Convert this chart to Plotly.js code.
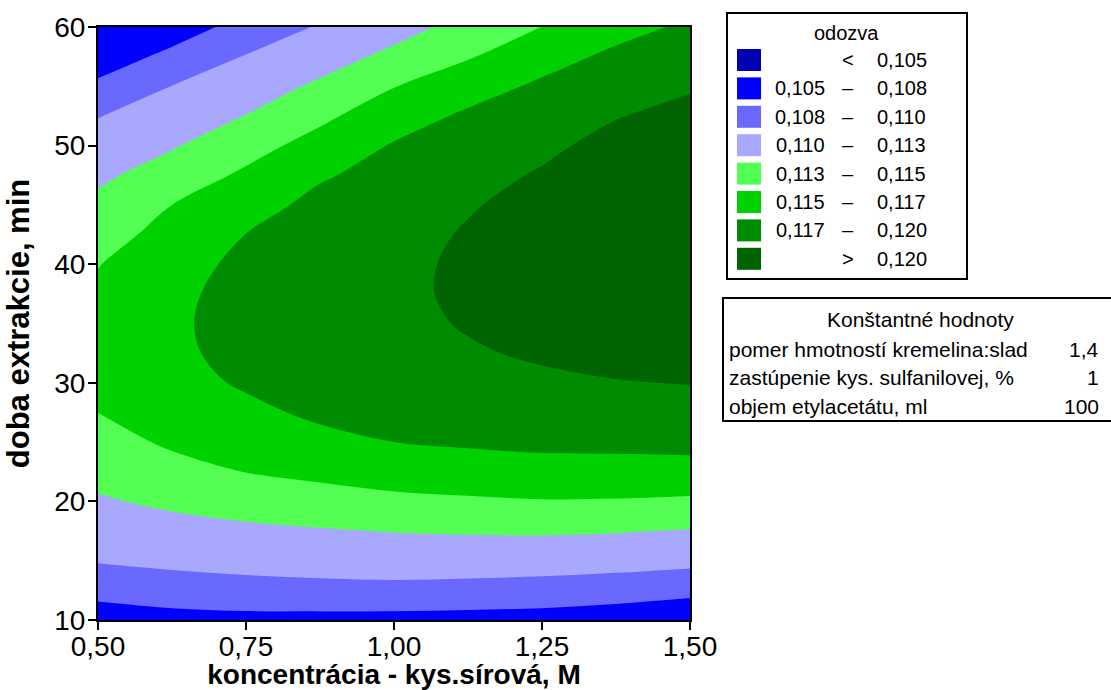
<!DOCTYPE html>
<html>
<head>
<meta charset="utf-8">
<script src="https://cdn.plot.ly/plotly-3.0.1.min.js"></script>
<style>html,body{margin:0;padding:0;background:#fff}</style>
</head>
<body>
<div id="chart" style="width:1111px;height:690px"></div>
<script>
// Factor grid: sulphuric acid concentration (M) and extraction time (min)
const concentration = [0.5, 0.625, 0.75, 0.875, 1.0, 1.125, 1.25, 1.375, 1.5];
const extractionTime = [10, 12.5, 15, 17.5, 20, 22.5, 25, 27.5, 30, 32.5, 35,
                        37.5, 40, 42.5, 45, 47.5, 50, 52.5, 55, 57.5, 60];

// Fitted response (odozva), one row per extraction time, one column per concentration
const response = [
  [0.10620, 0.10662, 0.10679, 0.10675, 0.10672, 0.10660, 0.10646, 0.10607, 0.10545],
  [0.10827, 0.10882, 0.10915, 0.10933, 0.10940, 0.10926, 0.10906, 0.10872, 0.10822],
  [0.11017, 0.11054, 0.11080, 0.11098, 0.11112, 0.11111, 0.11105, 0.11089, 0.11063],
  [0.11121, 0.11171, 0.11205, 0.11231, 0.11258, 0.11270, 0.11275, 0.11263, 0.11236],
  [0.11225, 0.11291, 0.11350, 0.11401, 0.11447, 0.11468, 0.11487, 0.11482, 0.11463],
  [0.11319, 0.11418, 0.11504, 0.11556, 0.11605, 0.11638, 0.11663, 0.11671, 0.11666],
  [0.11411, 0.11535, 0.11600, 0.11684, 0.11750, 0.11780, 0.11801, 0.11802, 0.11817],
  [0.11501, 0.11614, 0.11696, 0.11794, 0.11824, 0.11864, 0.11892, 0.11905, 0.11920],
  [0.11546, 0.11670, 0.11778, 0.11867, 0.11882, 0.11931, 0.11966, 0.11991, 0.12007],
  [0.11568, 0.11702, 0.11824, 0.11918, 0.11924, 0.11981, 0.12024, 0.12060, 0.12077],
  [0.11567, 0.11710, 0.11844, 0.11945, 0.11950, 0.12015, 0.12064, 0.12111, 0.12131],
  [0.11542, 0.11693, 0.11839, 0.11949, 0.11960, 0.12033, 0.12089, 0.12146, 0.12170],
  [0.11492, 0.11653, 0.11808, 0.11929, 0.11954, 0.12033, 0.12096, 0.12163, 0.12191],
  [0.11398, 0.11588, 0.11753, 0.11886, 0.11932, 0.12017, 0.12087, 0.12163, 0.12197],
  [0.11303, 0.11500, 0.11648, 0.11820, 0.11894, 0.11985, 0.12061, 0.12146, 0.12186],
  [0.11204, 0.11361, 0.11542, 0.11723, 0.11839, 0.11936, 0.12019, 0.12111, 0.12159],
  [0.11100, 0.11228, 0.11409, 0.11590, 0.11769, 0.11870, 0.11960, 0.12060, 0.12116],
  [0.10992, 0.11116, 0.11256, 0.11449, 0.11640, 0.11788, 0.11884, 0.11991, 0.12056],
  [0.10790, 0.11005, 0.11135, 0.11288, 0.11492, 0.11649, 0.11791, 0.11905, 0.11981],
  [0.10643, 0.10800, 0.11014, 0.11153, 0.11303, 0.11481, 0.11657, 0.11802, 0.11888],
  [0.10510, 0.10652, 0.10819, 0.11026, 0.11167, 0.11324, 0.11503, 0.11665, 0.11790]
];

// Contour breaks and the band colours (lowest band first)
const levelBreaks = [0.105, 0.1075, 0.110, 0.1125, 0.115, 0.1175, 0.120];
const bandColors = ['#0000B4', '#0000FF', '#6969FF', '#A8A8FF',
                    '#52FF52', '#00D200', '#008C00', '#006400'];
const bandLabels = [
  ['', '<', '0,105'],
  ['0,105', '–', '0,108'],
  ['0,108', '–', '0,110'],
  ['0,110', '–', '0,113'],
  ['0,113', '–', '0,115'],
  ['0,115', '–', '0,117'],
  ['0,117', '–', '0,120'],
  ['', '>', '0,120']
];

// Factors held constant
const constantNames = ['pomer hmotností kremelina:slad',
                       'zastúpenie kys. sulfanilovej, %',
                       'objem etylacetátu, ml'];
const constantValues = ['1,4', '1', '100'];

const xTicks = [0.5, 0.75, 1.0, 1.25, 1.5];

// ---- page geometry (pixels) ----
const W = 1111, H = 690;
const PL = 98, PR = 690, PT = 27, PB = 620;
const px = p => (p - PL) / (PR - PL);
const py = p => (PB - p) / (PB - PT);

const FONT = 'Liberation Sans, Arial, sans-serif';

// Rows of the discrete colour scale, one per band, hit exactly by Plotly's fill mapping
const colorscale = bandColors.map((c, i) => [i / (bandColors.length - 1), c]);

const trace = {
  type: 'contour',
  x: concentration,
  y: extractionTime,
  z: response,
  autocontour: false,
  contours: {
    start: levelBreaks[0],
    end: levelBreaks[levelBreaks.length - 1],
    size: levelBreaks[1] - levelBreaks[0],
    coloring: 'fill',
    showlines: false
  },
  colorscale: colorscale,
  showscale: false,
  line: {width: 0, smoothing: 1},
  hoverinfo: 'skip'
};

const shapes = [];
const annotations = [];

function text(t, x, y, size, anchor, opts) {
  annotations.push(Object.assign({
    text: t, xref: 'paper', yref: 'paper', x: px(x), y: py(y),
    xanchor: anchor, yanchor: 'middle', showarrow: false,
    font: {family: FONT, size: size, color: '#000'}
  }, opts || {}));
}

// Legend box
shapes.push({type: 'rect', xref: 'paper', yref: 'paper',
  x0: px(727), x1: px(967), y0: py(13), y1: py(279),
  line: {color: '#000', width: 2}, fillcolor: 'rgba(0,0,0,0)', layer: 'above'});
text('odozva', 846, 33, 20, 'center');
bandColors.forEach((c, i) => {
  const cy = 60 + i * 28.4;
  shapes.push({type: 'rect', xref: 'paper', yref: 'paper',
    x0: px(737), x1: px(761), y0: py(cy - 11), y1: py(cy + 11),
    line: {width: 0}, fillcolor: c, layer: 'above'});
  const lab = bandLabels[i];
  if (lab[0]) text(lab[0], 827, cy, 20, 'right');
  text(lab[1], 848, cy, 20, 'center');
  text(lab[2], 875, cy, 20, 'left');
});

// Constant-values box (runs off the right edge of the page)
shapes.push({type: 'rect', xref: 'paper', yref: 'paper',
  x0: px(723), x1: px(1116), y0: py(298), y1: py(421),
  line: {color: '#000', width: 2}, fillcolor: 'rgba(0,0,0,0)', layer: 'above'});
text('Konštantné hodnoty', 920, 319, 21, 'center');
constantNames.forEach((n, i) => {
  const cy = 349 + i * 28.5;
  text(n, 727, cy, 21, 'left');
  text(constantValues[i], 1101, cy, 21, 'right');
});

const layout = {
  width: W, height: H,
  margin: {l: PL, r: W - PR, t: PT, b: H - PB, pad: 0},
  paper_bgcolor: '#fff', plot_bgcolor: '#fff',
  separators: ',.',
  showlegend: false,
  xaxis: {
    range: [0.5, 1.5], tickvals: xTicks, tickformat: '.2f',
    ticks: 'outside', ticklen: 8, tickwidth: 2, tickcolor: '#000',
    ticklabelstandoff: -8,
    showline: true, linecolor: '#000', linewidth: 2, mirror: true,
    showgrid: false, zeroline: false,
    tickfont: {family: FONT, size: 28, color: '#000'},
    title: {text: 'koncentrácia - kys.sírová, M', standoff: 1,
            font: {family: FONT, size: 28, color: '#000', weight: 'bold'}}
  },
  yaxis: {
    range: [10, 60], dtick: 10, tick0: 10,
    ticks: 'outside', ticklen: 8, tickwidth: 2, tickcolor: '#000',
    ticklabelstandoff: -3,
    showline: true, linecolor: '#000', linewidth: 2, mirror: true,
    showgrid: false, zeroline: false,
    tickfont: {family: FONT, size: 28, color: '#000'},
    title: {text: 'doba extrakcie, min', standoff: 15,
            font: {family: FONT, size: 31, color: '#000', weight: 'bold'}}
  },
  shapes: shapes,
  annotations: annotations
};

Plotly.newPlot('chart', [trace], layout, {staticPlot: true, displayModeBar: false});
</script>
</body>
</html>
